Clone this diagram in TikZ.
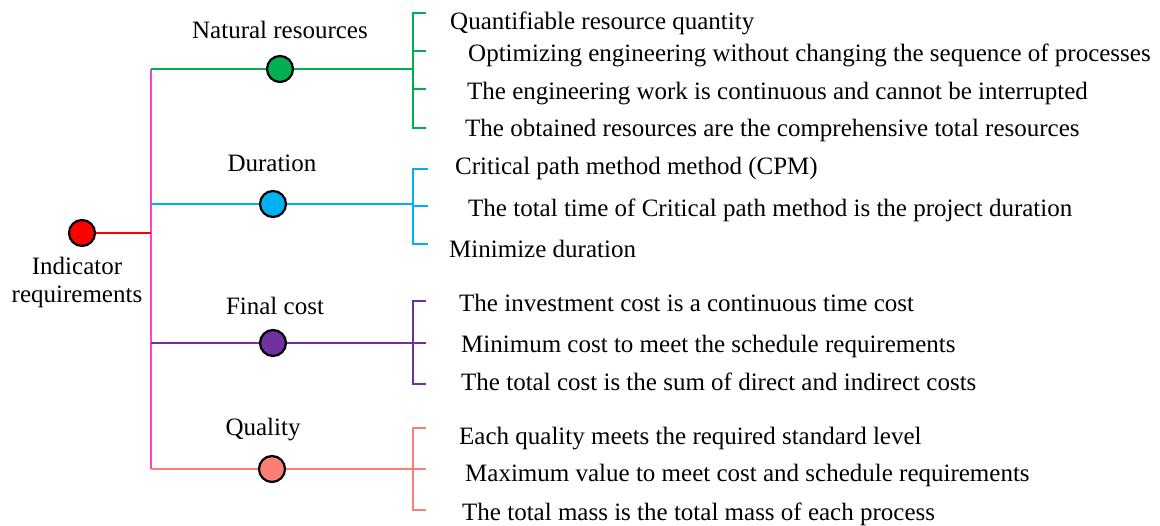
\documentclass[tikz,border=0pt]{standalone}
\usepackage{fontspec}
\setmainfont{LiberationSerif}[Extension=.ttf, UprightFont=*-Regular, BoldFont=*-Bold]
\usepackage{tikz}
\usetikzlibrary{positioning}
\usepackage{xcolor}
\definecolor{natgreen}{HTML}{00B050}
\definecolor{durblue}{HTML}{00B0F0}
\definecolor{costpurple}{HTML}{7030A0}
\definecolor{qualsalmon}{HTML}{F87E76}
\definecolor{trunkpink}{HTML}{FF40CC}

\begin{document}
\begin{tikzpicture}[x=1pt, y=-1pt, font=\rmfamily\fontsize{25}{30}\selectfont,
	dot/.style={circle, draw=black, line width=2.2pt, minimum size=26pt, inner sep=0pt},
	ln/.style={line width=2pt},
	item/.style={anchor=base west, inner sep=0pt},
	head/.style={anchor=base, inner sep=0pt}]
	\useasboundingbox (0,0) rectangle (1160,526);
	% root
	\coordinate (trunkTop) at (151,69);
	\coordinate (trunkMid) at (151,233);
	\coordinate (trunkBot) at (151,469);
	\draw [ln, trunkpink] (trunkTop)--(trunkBot);
	\node [dot, fill=red] (root) at (82,233) {};
	\draw [ln, red] (root)--(trunkMid);
	\node [head] (ind1) at (77,275) {Indicator};
	\node [head] (ind2) at (77,303) {requirements};
	% natural resources
	\node [head] (natlabel) at (280,39) {Natural resources};
	\node [dot, fill=natgreen] (nat) at (280,69) {};
	\coordinate (natR) at (413,69);
	\draw [ln, natgreen] (trunkTop)--(nat)--(natR);
	\draw [ln, natgreen] (426,13)--(413,13)--(413,128)--(426,128);
	\draw [ln, natgreen] (413,51)--(426,51);
	\draw [ln, natgreen] (413,89)--(426,89);
	\node [item] (nat1) at (450,30) {Quantifiable resource quantity};
	\node [item] (nat2) at (468,62) {Optimizing engineering without changing the sequence of processes};
	\node [item] (nat3) at (467,100) {The engineering work is continuous and cannot be interrupted};
	\node [item] (nat4) at (465,137) {The obtained resources are the comprehensive total resources};
	% duration
	\coordinate (durL) at (151,204);
	\coordinate (durR) at (413,204);
	\node [head] (durlabel) at (272,172) {Duration};
	\node [dot, fill=durblue] (dur) at (273,204) {};
	\draw [ln, durblue] (durL)--(dur)--(durR);
	\draw [ln, durblue] (428,169)--(413,169)--(413,244)--(428,244);
	\draw [ln, durblue] (413,206)--(428,206);
	\node [item] (dur1) at (455,175) {Critical path method method (CPM)};
	\node [item] (dur2) at (468,217) {The total time of Critical path method is the project duration};
	\node [item] (dur3) at (449,258) {Minimize duration};
	% final cost
	\coordinate (costL) at (151,343);
	\coordinate (costR) at (413,343);
	\node [head] (costlabel) at (275,315) {Final cost};
	\node [dot, fill=costpurple] (cost) at (273,343) {};
	\draw [ln, costpurple] (costL)--(cost)--(costR);
	\draw [ln, costpurple] (426,301)--(413,301)--(413,384)--(426,384);
	\draw [ln, costpurple] (413,343)--(426,343);
	\node [item] (cost1) at (459,312) {The investment cost is a continuous time cost};
	\node [item] (cost2) at (461,353) {Minimum cost to meet the schedule requirements};
	\node [item] (cost3) at (461,391) {The total cost is the sum of direct and indirect costs};
	% quality
	\coordinate (qualR) at (413,469);
	\node [head] (quallabel) at (263,436) {Quality};
	\node [dot, fill=qualsalmon] (qual) at (272,469) {};
	\draw [ln, qualsalmon] (trunkBot)--(qual)--(qualR);
	\draw [ln, qualsalmon] (426,428)--(413,428)--(413,510)--(426,510);
	\draw [ln, qualsalmon] (413,469)--(426,469);
	\node [item] (qual1) at (459,445) {Each quality meets the required standard level};
	\node [item] (qual2) at (465,482) {Maximum value to meet cost and schedule requirements};
	\node [item] (qual3) at (462,520) {The total mass is the total mass of each process};
\end{tikzpicture}
\end{document}
